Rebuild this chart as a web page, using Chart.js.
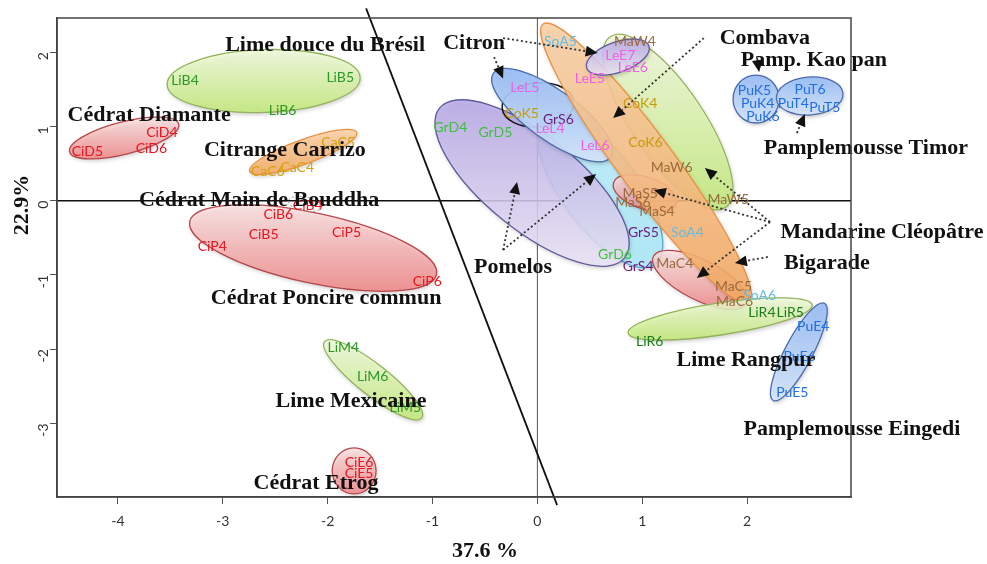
<!DOCTYPE html>
<html>
<head>
<meta charset="utf-8">
<script src="https://cdn.jsdelivr.net/npm/chart.js@4.4.1/dist/chart.umd.min.js"></script>
<style>
  html, body { margin: 0; padding: 0; background: #fff; }
  #wrap { width: 987px; height: 564px; }
</style>
</head>
<body>
<div id="wrap"><canvas id="pca"></canvas></div>
<script>
// axis ticks
var xTicks = [-4, -3, -2, -1, 0, 1, 2];
var yTicks = [-3, -2, -1, 0, 1, 2];

// individuals (PC1, PC2)
var sampleNames = ['CiD5','CiD4','CiD6','LiB4','LiB5','LiB6','CaC5','CaC4','CaC6','CiB6','CiB4','CiB5',
  'CiP4','CiP5','CiP6','LiM4','LiM6','LiM5','CiE6','CiE5','SoA5','MaW4','LeE7','LeE6','LeE5','LeL5',
  'CoK4','CoK5','GrS6','LeL4','LeL6','CoK6','GrD4','GrD5','MaW6','MaS5','MaS6','MaS4','MaW5','GrS5',
  'SoA4','GrD6','GrS4','MaC4','MaC5','MaC6','SoA6','LiR4','LiR5','PuE4','LiR6','PuE6','PuE5',
  'PuK5','PuK4','PuK6','PuT6','PuT4','PuT5'];
var sampleX = [-4.29,-3.58,-3.68,-3.36,-1.88,-2.43,-1.90,-2.29,-2.57,-2.47,-2.19,-2.61,
  -3.10,-1.82,-1.05,-1.85,-1.57,-1.26,-1.70,-1.70,0.22,0.93,0.79,0.91,0.50,-0.12,
  0.98,-0.15,0.20,0.12,0.55,1.03,-0.83,-0.40,1.28,0.98,0.91,1.14,1.82,1.01,
  1.43,0.74,0.96,1.31,1.87,1.88,2.12,2.14,2.41,2.63,1.07,2.50,2.43,
  2.07,2.10,2.15,2.60,2.44,2.74];
var sampleY = [0.66,0.92,0.70,1.62,1.66,1.22,0.79,0.45,0.39,-0.18,-0.07,-0.46,
  -0.62,-0.43,-1.09,-1.97,-2.37,-2.78,-3.53,-3.68,2.14,2.14,1.96,1.80,1.65,1.52,
  1.31,1.18,1.09,0.97,0.74,0.78,0.98,0.92,0.45,0.10,-0.03,-0.15,0.01,-0.43,
  -0.43,-0.73,-0.89,-0.84,-1.15,-1.36,-1.27,-1.50,-1.51,-1.70,-1.89,-2.10,-2.58,
  1.49,1.31,1.13,1.50,1.31,1.26];

// group ellipses: centre, end of first semi-axis, end of second semi-axis (data units)
var ellKind = ['green','red','orange','red','dotted','green','red','cyan','purple','outline','blue',
  'green','red','red','orange','purple','green','blue','blue','blue'];
var ellCX = [-2.61,-3.94,-2.233,-2.138,-2.215,-1.566,-1.747,0.598,-0.051,0.006,0.140,
  1.245,1.025,1.551,1.036,0.767,1.742,2.493,2.085,2.596];
var ellCY = [1.611,0.844,0.656,-0.637,-0.044,-2.412,-3.638,0.144,0.238,1.289,1.153,
  1.059,0.104,-1.067,0.507,1.934,-1.592,-2.036,1.369,1.409];
var ellAX = [-1.69,-3.42,-1.723,-0.962,-2.056,-1.106,-1.538,1.115,0.831,0.348,0.698,
  1.795,1.324,1.995,2.017,1.063,2.619,2.249,2.304,2.913];
var ellAY = [1.657,1.032,0.918,-0.995,-0.085,-2.931,-3.638,-0.858,-0.770,1.331,0.588,
  -0.090,-0.034,-1.385,-1.365,2.086,-1.404,-2.690,1.369,1.448];
var ellBX = [-2.60,-3.90,-2.194,-2.210,-2.226,-1.670,-1.747,0.301,-0.333,0.024,0.001,
  0.962,0.980,1.464,0.822,0.818,1.765,2.377,2.085,2.616];
var ellBY = [1.189,0.635,0.503,-1.097,-0.137,-2.561,-3.948,-0.149,-0.253,0.994,0.880,
  0.789,-0.101,-1.307,0.283,1.744,-1.805,-1.948,1.046,1.155];

// variety names
var groupNames = ['Lime douce du Brésil','Citron','Combava','Pamp. Kao pan','Pamplemousse Timor',
  'Cédrat Diamante','Citrange Carrizo','Cédrat Main de Bouddha','Cédrat Poncire commun','Pomelos',
  'Mandarine Cléopâtre','Bigarade','Lime Rangpur','Lime Mexicaine','Cédrat Etrog','Pamplemousse Eingedi'];
var groupX = [-2.024,-0.603,2.169,2.636,3.132,-3.702,-2.407,-2.653,-2.014,-0.232,3.285,2.760,1.988,-1.777,-2.111,2.999];
var groupY = [2.095,2.122,2.190,1.894,0.709,1.153,0.682,0.009,-1.310,-0.892,-0.421,-0.838,-2.144,-2.695,-3.799,-3.085];

// arrows from names to groups
var arrowX0 = [-0.327,-0.413,1.587,2.095,2.474,-0.327,-0.327,2.218,2.218,2.218,2.197];
var arrowY0 = [2.190,1.934,2.190,1.921,0.911,-0.664,-0.664,-0.287,-0.287,-0.287,-0.758];
var arrowX1 = [0.575,-0.327,0.722,2.114,2.550,-0.194,0.560,1.597,1.110,1.520,1.883];
var arrowY1 = [1.988,1.647,1.113,1.732,1.167,0.252,0.359,0.440,0.144,-1.040,-0.838];

// separating line
var splitX = [-1.633, 0.188];
var splitY = [2.59, -4.10];

var labelColor = {
  Ci: '#e8141e', Li: '#2b9a25', Gr: '#3fbf3f', Ca: '#d4a20c', Co: '#c99a0a', So: '#63bde9',
  Ma: '#9a6b3c', Le: '#f25ee8', Pu: '#1f6fe5'
};
function colorFor(name) {
  if (name.indexOf('GrS') === 0) return '#6f1a7f';
  if (name.indexOf('LiR') === 0) return '#1a7f1a';
  return labelColor[name.substring(0, 2)];
}

var ellStyle = {
  red:    { top: 'rgba(255,228,228,0.8)', bot: 'rgba(244,130,130,0.8)', line: '#b5474b' },
  green:  { top: 'rgba(242,252,222,0.85)', bot: 'rgba(196,236,120,0.85)', line: '#93b35a' },
  orange: { top: 'rgba(252,212,170,0.88)', bot: 'rgba(248,172,100,0.88)', line: '#ea9040' },
  purple: { top: 'rgba(184,168,232,0.85)', bot: 'rgba(238,232,250,0.85)', line: '#5f5a9c' },
  blue:   { top: 'rgba(150,188,245,0.92)', bot: 'rgba(214,230,252,0.92)', line: '#4a6cad' },
  cyan:   { top: 'rgba(190,238,250,0.95)', bot: 'rgba(175,232,248,0.95)', line: '#55aed2' }
};

function toPx(chart, x, y) {
  return [chart.scales.x.getPixelForValue(x), chart.scales.y.getPixelForValue(y)];
}

function drawArrow(ctx, x0, y0, x1, y1) {
  var ang = Math.atan2(y1 - y0, x1 - x0), L = 12, W = 5.5;
  var bx = x1 - L * Math.cos(ang), by = y1 - L * Math.sin(ang);
  ctx.setLineDash([2, 2.5]);
  ctx.lineWidth = 1.8;
  ctx.strokeStyle = '#333';
  ctx.beginPath();
  ctx.moveTo(x0, y0);
  ctx.lineTo(bx, by);
  ctx.stroke();
  ctx.setLineDash([]);
  ctx.fillStyle = '#111';
  ctx.beginPath();
  ctx.moveTo(x1, y1);
  ctx.lineTo(bx - W * Math.sin(ang), by + W * Math.cos(ang));
  ctx.lineTo(bx + W * Math.sin(ang), by - W * Math.cos(ang));
  ctx.closePath();
  ctx.fill();
}

var pcaPlugin = {
  id: 'pcaDecor',
  beforeDatasetsDraw: function (chart) {
    var ctx = chart.ctx, area = chart.chartArea;
    var x0 = chart.scales.x.getPixelForValue(0), y0 = chart.scales.y.getPixelForValue(0);
    ctx.save();
    ctx.strokeStyle = '#555';
    ctx.lineWidth = 1;
    ctx.beginPath();
    ctx.moveTo(x0, area.top);
    ctx.lineTo(x0, area.bottom);
    ctx.stroke();
    ctx.strokeStyle = '#111';
    ctx.lineWidth = 1.5;
    ctx.beginPath();
    ctx.moveTo(area.left, y0);
    ctx.lineTo(area.right, y0);
    ctx.stroke();

    for (var i = 0; i < ellKind.length; i++) {
      var c = toPx(chart, ellCX[i], ellCY[i]);
      var a = toPx(chart, ellAX[i], ellAY[i]);
      var b = toPx(chart, ellBX[i], ellBY[i]);
      var ux = a[0] - c[0], uy = a[1] - c[1], vx = b[0] - c[0], vy = b[1] - c[1];
      ctx.save();
      ctx.beginPath();
      ctx.transform(ux, uy, vx, vy, c[0], c[1]);
      ctx.arc(0, 0, 1, 0, Math.PI * 2);
      ctx.restore();
      var kind = ellKind[i];
      if (kind === 'dotted') {
        ctx.setLineDash([2, 2]);
        ctx.strokeStyle = '#999';
        ctx.lineWidth = 1;
        ctx.stroke();
        ctx.setLineDash([]);
        continue;
      }
      if (kind === 'outline') {
        ctx.strokeStyle = '#111';
        ctx.lineWidth = 1.5;
        ctx.stroke();
        continue;
      }
      var st = ellStyle[kind];
      var ext = Math.sqrt(uy * uy + vy * vy);
      var g = ctx.createLinearGradient(c[0], c[1] - ext, c[0], c[1] + ext);
      g.addColorStop(0, st.top);
      g.addColorStop(1, st.bot);
      ctx.save();
      ctx.shadowColor = 'rgba(0,0,0,0.25)';
      ctx.shadowBlur = 4;
      ctx.shadowOffsetX = 1;
      ctx.shadowOffsetY = 2;
      ctx.fillStyle = g;
      ctx.fill();
      ctx.restore();
      ctx.strokeStyle = st.line;
      ctx.lineWidth = 1.3;
      ctx.stroke();
    }
    ctx.restore();
  },
  afterDatasetsDraw: function (chart) {
    var ctx = chart.ctx;
    var meta = chart.getDatasetMeta(0);
    ctx.save();
    ctx.font = '14px Lato';
    ctx.textAlign = 'center';
    ctx.textBaseline = 'middle';
    meta.data.forEach(function (pt, i) {
      ctx.fillStyle = colorFor(sampleNames[i]);
      ctx.fillText(sampleNames[i], pt.x, pt.y);
    });

    // separating line
    var s0 = toPx(chart, splitX[0], splitY[0]), s1 = toPx(chart, splitX[1], splitY[1]);
    ctx.strokeStyle = '#111';
    ctx.lineWidth = 1.8;
    ctx.beginPath();
    ctx.moveTo(s0[0], s0[1]);
    ctx.lineTo(s1[0], s1[1]);
    ctx.stroke();

    // variety names
    ctx.font = 'bold 22px "Liberation Serif"';
    ctx.fillStyle = '#111';
    for (var i = 0; i < groupNames.length; i++) {
      var p = toPx(chart, groupX[i], groupY[i]);
      ctx.fillText(groupNames[i], p[0], p[1]);
    }

    for (var k = 0; k < arrowX0.length; k++) {
      var f = toPx(chart, arrowX0[k], arrowY0[k]), t = toPx(chart, arrowX1[k], arrowY1[k]);
      drawArrow(ctx, f[0], f[1], t[0], t[1]);
    }
    ctx.restore();
  },
  afterDraw: function (chart) {
    var ctx = chart.ctx, area = chart.chartArea;
    ctx.save();
    ctx.strokeStyle = '#444';
    ctx.lineWidth = 1.5;
    ctx.strokeRect(area.left, area.top, area.right - area.left, area.bottom - area.top);
    ctx.fillStyle = '#111';
    ctx.font = 'bold 22px "Liberation Serif"';
    ctx.textAlign = 'center';
    ctx.textBaseline = 'middle';
    ctx.fillText('37.6 %', 485, 551);
    ctx.translate(22, 205);
    ctx.rotate(-Math.PI / 2);
    ctx.fillText('22.9%', 0, 0);
    ctx.restore();
  }
};

var points = sampleX.map(function (x, i) { return { x: x, y: sampleY[i] }; });

new Chart(document.getElementById('pca'), {
  type: 'scatter',
  data: {
    datasets: [{ label: 'individus', data: points, pointRadius: 0, pointHoverRadius: 0 }]
  },
  options: {
    responsive: true,
    maintainAspectRatio: false,
    animation: false,
    events: [],
    layout: { padding: { left: 0, right: 136, top: 18, bottom: 0 } },
    plugins: { legend: { display: false }, tooltip: { enabled: false } },
    scales: {
      x: {
        type: 'linear', min: -4.58, max: 2.99,
        afterBuildTicks: function (s) { s.ticks = xTicks.map(function (v) { return { value: v }; }); },
        afterFit: function (s) { s.height = 67; },
        grid: { drawOnChartArea: false, drawTicks: true, tickLength: 7, color: '#555' },
        border: { display: true, color: '#444', width: 1.5 },
        ticks: { color: '#333', font: { family: 'Lato', size: 14 }, padding: 9, maxRotation: 0 }
      },
      y: {
        type: 'linear', min: -3.99, max: 2.46,
        afterBuildTicks: function (s) { s.ticks = yTicks.map(function (v) { return { value: v }; }); },
        afterFit: function (s) { s.width = 57; },
        grid: { drawOnChartArea: false, drawTicks: true, tickLength: 7, color: '#555' },
        border: { display: true, color: '#444', width: 1.5 },
        ticks: { color: '#333', font: { family: 'Lato', size: 14 }, padding: 7, minRotation: 90, maxRotation: 90 }
      }
    }
  },
  plugins: [pcaPlugin]
});
</script>
</body>
</html>
